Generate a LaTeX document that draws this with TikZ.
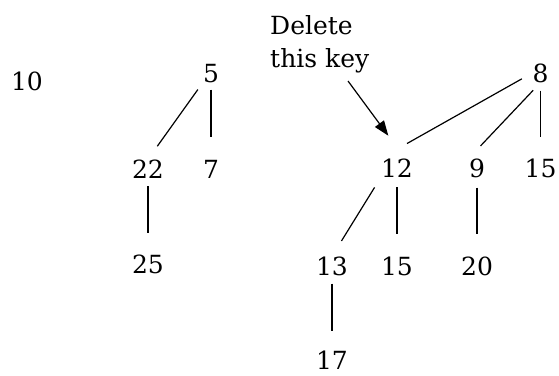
\documentclass[tikz,border=0pt]{standalone}
\usepackage{fontspec}
\setmainfont{DejaVu Serif}
\usetikzlibrary{arrows.meta}
\begin{document}
\begin{tikzpicture}[x=1pt,y=-1pt,
  key/.style={inner sep=0pt, anchor=base, font=\fontsize{25}{33}\selectfont},
  note/.style={inner sep=0pt, anchor=north west, align=left, font=\fontsize{25}{33}\selectfont},
  link/.style={line width=1.2pt, shorten <=8pt, shorten >=22pt},
  pointer/.style={line width=1.2pt, -{Triangle[length=15pt,width=11pt]}}]
  \path[use as bounding box] (0,0) rectangle (559,375);

  % keys of the heap, placed on their baselines
  \node[key] (n10)  at (27,90)   {10};
  \node[key] (n5)   at (211,82)  {5};
  \node[key] (n22)  at (148,178) {22};
  \node[key] (n7)   at (211,178) {7};
  \node[key] (n25)  at (148,273) {25};
  \node[key] (n8)   at (540.5,82)  {8};
  \node[key] (n12)  at (397,177) {12};
  \node[key] (n9)   at (477,177) {9};
  \node[key] (n15b) at (540.5,177) {15};
  \node[key] (n13)  at (332,275) {13};
  \node[key] (n15a) at (397,275) {15};
  \node[key] (n20)  at (477,275) {20};
  \node[key] (n17)  at (332,369) {17};

  % tree edges
  \draw[link, shorten <=8.6pt, shorten >=16pt] (n5.south west) -- (n22.north);
  \draw[link, shorten <=7pt, shorten >=23pt] (n5.south) -- (n7.north);
  \draw[link, shorten >=21pt] (n22.south) -- (n25.north);
  \draw[link, shorten <=12pt, shorten >=30pt] (n8.west) -- (n12.north west);
  \draw[link, shorten <=10.7pt, shorten >=17pt] (n8.south) -- (n9.north west);
  \draw[link, shorten >=21pt] (n8.south) -- (n15b.north);
  \draw[link, shorten <=12pt, shorten >=18pt] (n12.south west) -- (n13.north);
  \draw[link, shorten <=10pt, shorten >=22pt] (n12.south) -- (n15a.north);
  \draw[link, shorten <=10pt, shorten >=22pt] (n9.south) -- (n20.north);
  \draw[link, shorten >=19pt] (n13.south) -- (n17.north);

  % annotation
  \node[note] (label) at (270,15) {Delete\\this key};
  \coordinate (tail) at (348,81);
  \draw[pointer, shorten >=28pt] (tail) -- (n12.50);
\end{tikzpicture}
\end{document}
